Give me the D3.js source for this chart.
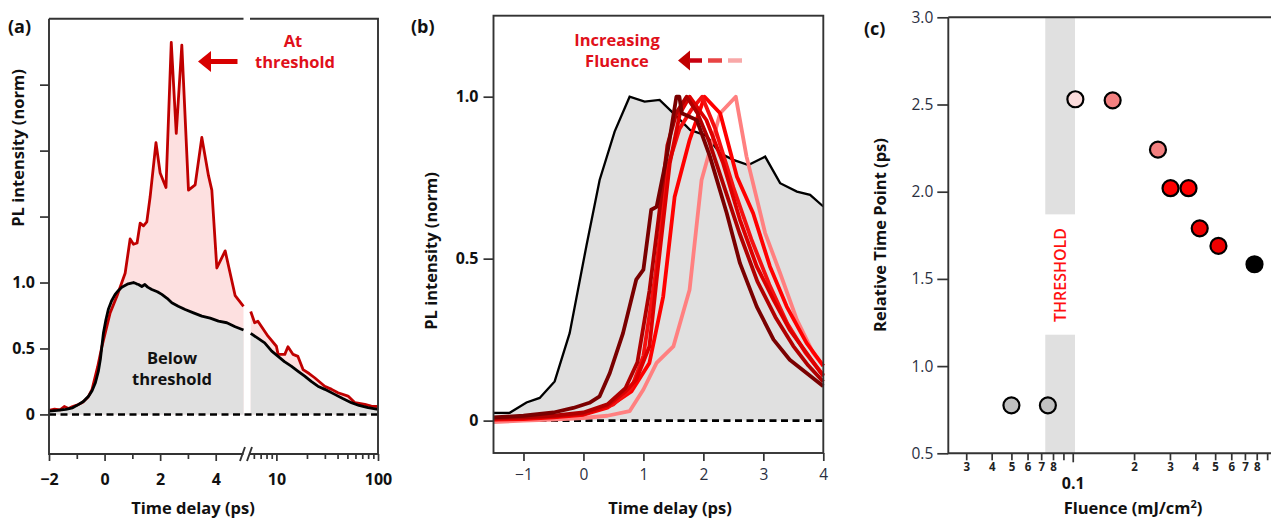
<!DOCTYPE html>
<meta charset="utf-8">
<script src="https://d3js.org/d3.v7.min.js"></script>
<style>
  body { margin: 0; background: #fff; }
  text { font-family: "Open Sans", sans-serif; }
</style>
<body>
<div id="chart"></div>
<script>
// ---- data ----
// panel (a): [time (ps), PL (norm)], linear part (-2..5 ps) and log part (5.5..100 ps)
var aBelowLin = [[-2,0.025],[-1.7,0.03],[-1.4,0.038],[-1.15,0.05],[-0.93,0.076],[-0.75,0.1],[-0.57,0.14],[-0.45,0.18],[-0.33,0.24],[-0.22,0.33],[-0.15,0.42],[-0.04,0.62],[0.05,0.72],[0.14,0.8],[0.25,0.86],[0.38,0.91],[0.5,0.94],[0.62,0.965],[0.85,0.99],[1.04,1.0],[1.15,0.99],[1.22,0.985],[1.34,0.97],[1.45,0.985],[1.55,0.965],[1.7,0.947],[1.9,0.93],[2.06,0.91],[2.25,0.88],[2.42,0.846],[2.65,0.82],[2.9,0.795],[3.2,0.77],[3.5,0.745],[3.8,0.73],[4.1,0.707],[4.4,0.695],[4.7,0.665],[5.0,0.64]];
var aBelowLog = [[5.59,0.614],[6.5,0.58],[7.67,0.543],[9,0.48],[10.4,0.44],[12,0.40],[14,0.366],[16.5,0.325],[19,0.29],[22,0.25],[25.6,0.214],[30,0.19],[37.5,0.152],[45,0.12],[54.7,0.089],[65,0.068],[79.8,0.051],[100,0.038]];
var aAtLin = [[-2,0.03],[-1.8,0.04],[-1.6,0.035],[-1.45,0.06],[-1.3,0.045],[-1.15,0.06],[-1.0,0.07],[-0.8,0.09],[-0.6,0.13],[-0.45,0.19],[-0.25,0.36],[-0.09,0.52],[0.2,0.77],[0.45,0.9],[0.74,1.07],[0.92,1.33],[1.04,1.29],[1.17,1.3],[1.28,1.45],[1.4,1.43],[1.52,1.46],[1.64,1.65],[1.85,2.06],[2.0,1.83],[2.21,1.72],[2.4,2.82],[2.58,2.13],[2.78,2.8],[3.02,1.7],[3.26,1.74],[3.5,2.1],[3.74,1.81],[3.86,1.7],[4.04,1.11],[4.34,1.24],[4.7,0.9],[5.0,0.82]];
var aAtLog = [[5.59,0.78],[6.11,0.695],[6.58,0.707],[8.27,0.593],[10,0.517],[10.4,0.455],[12.1,0.455],[13,0.513],[14.6,0.455],[16.3,0.44],[18.3,0.34],[21,0.31],[23.8,0.278],[29.9,0.214],[35,0.19],[40.4,0.164],[50.7,0.139],[59.3,0.089],[74.2,0.076],[86,0.063],[100,0.06]];

// panel (b): below-threshold trace and six fluence traces
var bBelow = [[-1.5,0.024],[-1.23,0.024],[-0.95,0.056],[-0.73,0.07],[-0.48,0.121],[-0.23,0.27],[0.05,0.54],[0.27,0.743],[0.52,0.892],[0.77,1.0],[1.02,0.985],[1.27,0.99],[1.55,0.94],[1.78,0.897],[2.05,0.88],[2.28,0.825],[2.5,0.805],[2.75,0.789],[3.03,0.815],[3.28,0.733],[3.56,0.707],[3.78,0.697],[4.0,0.661]];
var bTraces = [
  [[-1.5,0.01],[-1.0,0.015],[-0.5,0.025],[-0.17,0.039],[0.1,0.055],[0.27,0.075],[0.44,0.147],[0.66,0.27],[0.88,0.435],[1.0,0.466],[1.13,0.651],[1.22,0.66],[1.39,0.815],[1.55,1.0],[1.6,1.0],[1.64,0.949],[1.89,0.928],[2.11,0.815],[2.39,0.64],[2.61,0.486],[2.89,0.352],[3.17,0.25],[3.44,0.188],[3.72,0.147],[4.0,0.106]],
  [[-1.5,0.008],[-1,0.01],[-0.5,0.015],[0,0.025],[0.4,0.05],[0.7,0.1],[0.9,0.18],[1.1,0.4],[1.25,0.62],[1.4,0.85],[1.55,0.95],[1.72,1.0],[1.9,0.95],[2.1,0.86],[2.35,0.72],[2.6,0.58],[2.9,0.43],[3.2,0.32],[3.5,0.23],[3.75,0.17],[4.0,0.12]],
  [[-1.5,0.005],[-1,0.008],[-0.5,0.012],[0,0.02],[0.4,0.045],[0.7,0.09],[0.88,0.126],[1.1,0.229],[1.22,0.435],[1.44,0.794],[1.61,0.949],[1.77,1.0],[2.05,0.928],[2.33,0.794],[2.61,0.62],[2.89,0.476],[3.17,0.373],[3.44,0.28],[3.72,0.209],[4.0,0.137]],
  [[-1.5,0.004],[-0.5,0.012],[0,0.02],[0.5,0.05],[0.8,0.1],[1.0,0.2],[1.2,0.45],[1.4,0.78],[1.6,0.9],[1.8,0.96],[1.98,1.0],[2.2,0.9],[2.5,0.72],[2.8,0.56],[3.1,0.42],[3.4,0.3],[3.7,0.21],[4.0,0.14]],
  [[-1.5,0.003],[-1,0.005],[-0.5,0.01],[0,0.018],[0.4,0.04],[0.8,0.09],[1.1,0.178],[1.33,0.383],[1.52,0.69],[1.77,0.866],[2.02,1.0],[2.28,0.949],[2.56,0.753],[2.83,0.64],[3.11,0.476],[3.39,0.352],[3.72,0.24],[4.0,0.169]],
  [[-1.5,-0.005],[-1,0.0],[-0.5,0.003],[0,0.008],[0.4,0.015],[0.77,0.029],[1.0,0.096],[1.22,0.178],[1.5,0.229],[1.77,0.404],[1.97,0.743],[2.28,0.949],[2.54,1.0],[2.72,0.815],[3.03,0.579],[3.28,0.455],[3.56,0.311],[3.83,0.209],[4.0,0.169]]
];
var bColors = ["#7a0000", "#b00000", "#dd0000", "#f41010", "#ff0000", "#ff8080"];

// panel (c): fluence (mJ/cm2) vs relative time point (ps)
var cFluence = [0.05, 0.0755, 0.103, 0.157, 0.262, 0.302, 0.37, 0.42, 0.519, 0.78];
var cTime = [0.775, 0.775, 2.53, 2.524, 2.241, 2.02, 2.02, 1.79, 1.689, 1.584];
var cFill = ["#c0c0c0", "#c0c0c0", "#fbdcdc", "#f38080", "#f38080", "#ff0000", "#ff0000", "#ee0000", "#ee0000", "#000000"];
var cThreshold = [0.0733, 0.1026];

var svg = d3.select("#chart").append("svg").attr("width", 1271).attr("height", 519);
var frameColor = "#333";
var titleSize = 16.5, tickSize = 16;

function styleTicks(g, size, weight, color) {
  g.select(".domain").remove();
  g.selectAll(".tick line").attr("stroke", frameColor).attr("stroke-width", 1.7);
  g.selectAll(".tick text").style("font-size", size + "px").style("font-weight", weight).attr("fill", color);
}
function label(g, x, y, txt, color, size, rot) {
  var t = g.append("text").attr("text-anchor", "middle").style("font-size", (size || titleSize) + "px")
    .style("font-weight", 700).attr("fill", color || "#111").text(txt);
  if (rot) t.attr("transform", "translate(" + x + "," + y + ") rotate(-90)");
  else t.attr("x", x).attr("y", y);
  return t;
}

// ================= panel (a) =================
var xaLin = d3.scaleLinear().domain([-2, 5]).range([49, 243.5]);
var xaLog = d3.scaleLog().domain([5.5, 100]).range([250, 378]);
var ya = d3.scaleLinear().domain([-0.3, 3.0]).range([454, 18.7]);
var pa = svg.append("g");

function areaA(x) { return d3.area().x(function(d) { return x(d[0]); }).y0(ya(0)).y1(function(d) { return ya(d[1]); }); }
function lineA(x) { return d3.line().x(function(d) { return x(d[0]); }).y(function(d) { return ya(d[1]); }); }

[[aAtLin, xaLin], [aAtLog, xaLog]].forEach(function(p) {
  pa.append("path").datum(p[0]).attr("fill", "#fde0e0").attr("d", areaA(p[1]));
});
[[aBelowLin, xaLin], [aBelowLog, xaLog]].forEach(function(p) {
  pa.append("path").datum(p[0]).attr("fill", "#e0e0e0").attr("d", areaA(p[1]));
});
pa.append("line").attr("x1", 49).attr("x2", 378).attr("y1", ya(0)).attr("y2", ya(0))
  .attr("stroke", "#000").attr("stroke-width", 2.6).attr("stroke-dasharray", "7,4.5");
[[aAtLin, xaLin], [aAtLog, xaLog]].forEach(function(p) {
  pa.append("path").datum(p[0]).attr("fill", "none").attr("stroke", "#c00000").attr("stroke-width", 2.8)
    .attr("stroke-linejoin", "round").attr("d", lineA(p[1]));
});
[[aBelowLin, xaLin], [aBelowLog, xaLog]].forEach(function(p) {
  pa.append("path").datum(p[0]).attr("fill", "none").attr("stroke", "#000").attr("stroke-width", 2.8)
    .attr("stroke-linejoin", "round").attr("d", lineA(p[1]));
});

// frame with break
var fa = pa.append("g").attr("stroke", frameColor).attr("stroke-width", 1.9).attr("fill", "none");
fa.append("path").attr("d", "M49,18.7V454H243.5 M250,454H378V18.7H250 M243.5,18.7H49");
fa.append("path").attr("d", "M240,461L245,447 M247,461L252,447");

pa.append("g").attr("transform", "translate(49,0)")
  .call(d3.axisLeft(ya).tickValues([0, 0.5, 1, 1.5, 2, 2.5]).tickSize(9).tickPadding(5)
    .tickFormat(function(d) { return d === 0 ? "0" : (d <= 1 ? d.toFixed(1) : ""); }))
  .call(styleTicks, tickSize, 700, "#111");
pa.append("g").attr("transform", "translate(0,454)")
  .call(d3.axisBottom(xaLin).tickValues([-2, 0, 2, 4]).tickSize(7).tickPadding(13).tickFormat(d3.format("d")))
  .call(styleTicks, tickSize, 700, "#111");
pa.append("g").attr("transform", "translate(0,454)")
  .call(d3.axisBottom(xaLin).tickValues([-1, 1, 3]).tickSize(5).tickFormat(""))
  .call(styleTicks, tickSize, 700, "#111");
pa.append("g").attr("transform", "translate(0,454)")
  .call(d3.axisBottom(xaLog).tickValues([10, 100]).tickSize(7).tickPadding(13).tickFormat(d3.format("d")))
  .call(styleTicks, tickSize, 700, "#111");
pa.append("g").attr("transform", "translate(0,454)")
  .call(d3.axisBottom(xaLog).tickValues([6, 7, 8, 9, 20, 30, 40, 50, 60, 70, 80, 90]).tickSize(5).tickFormat(""))
  .call(styleTicks, tickSize, 700, "#111");

label(pa, 193, 514, "Time delay (ps)");
label(pa, 24, 148, "PL intensity (norm)", "#111", titleSize, true);
pa.append("text").attr("x", 8).attr("y", 33).style("font-size", "18px").style("font-weight", 700)
  .attr("fill", "#111").text("(a)");
label(pa, 172, 364, "Below");
label(pa, 172, 385, "threshold");
label(pa, 293, 47, "At", "#e0101a");
label(pa, 295, 68, "threshold", "#e0101a");
pa.append("line").attr("x1", 208).attr("x2", 237.5).attr("y1", 61.5).attr("y2", 61.5)
  .attr("stroke", "#d80000").attr("stroke-width", 5);
pa.append("path").attr("d", "M198,61.5L211,51L211,72Z").attr("fill", "#d80000");

// ================= panel (b) =================
var xb = d3.scaleLinear().domain([-1.5, 4]).range([493.5, 823.3]);
var yb = d3.scaleLinear().domain([-0.1, 1.25]).range([453, 15.7]);
var pb = svg.append("g");
var lineB = d3.line().x(function(d) { return xb(d[0]); }).y(function(d) { return yb(d[1]); });

pb.append("path").datum(bBelow).attr("fill", "#e0e0e0")
  .attr("d", d3.area().x(function(d) { return xb(d[0]); }).y0(yb(0)).y1(function(d) { return yb(d[1]); }));
pb.append("line").attr("x1", 493.5).attr("x2", 823.3).attr("y1", yb(0)).attr("y2", yb(0))
  .attr("stroke", "#000").attr("stroke-width", 2.6).attr("stroke-dasharray", "7,4.5");
pb.append("path").datum(bBelow).attr("fill", "none").attr("stroke", "#000").attr("stroke-width", 2.3).attr("d", lineB);
bTraces.slice().reverse().forEach(function(tr, i) {
  var c = bColors[bTraces.length - 1 - i];
  pb.append("path").datum(tr).attr("fill", "none").attr("stroke", c).attr("stroke-width", 3.8)
    .attr("stroke-linejoin", "round").attr("d", lineB);
});
pb.append("rect").attr("x", 493.5).attr("y", 15.7).attr("width", 823.3 - 493.5).attr("height", 453 - 15.7)
  .attr("fill", "none").attr("stroke", frameColor).attr("stroke-width", 1.9);

pb.append("g").attr("transform", "translate(493.5,0)")
  .call(d3.axisLeft(yb).tickValues([0, 0.5, 1]).tickSize(10).tickPadding(5)
    .tickFormat(function(d) { return d === 0 ? "0" : d.toFixed(1); }))
  .call(styleTicks, tickSize, 700, "#111");
pb.append("g").attr("transform", "translate(0,453)")
  .call(d3.axisBottom(xb).tickValues([-1, 0, 1, 2, 3, 4]).tickSize(8).tickPadding(8).tickFormat(d3.format("d")))
  .call(styleTicks, 15.5, 400, "#2a2f3f");

label(pb, 670, 514, "Time delay (ps)");
label(pb, 437, 251, "PL intensity (norm)", "#111", titleSize, true);
pb.append("text").attr("x", 411).attr("y", 33).style("font-size", "18px").style("font-weight", 700)
  .attr("fill", "#111").text("(b)");
label(pb, 617, 46, "Increasing", "#e0101a");
label(pb, 617, 67, "Fluence", "#e0101a");
pb.append("path").attr("d", "M678,60.5L690,50.5L690,70.5Z").attr("fill", "#c00000");
[[689, 702, "#c80010"], [708, 722, "#e84444"], [728, 742, "#f8a8a8"]].forEach(function(s) {
  pb.append("line").attr("x1", s[0]).attr("x2", s[1]).attr("y1", 60.5).attr("y2", 60.5)
    .attr("stroke", s[2]).attr("stroke-width", 4.5);
});

// ================= panel (c) =================
var xc = d3.scaleLog().domain([0.0245, 0.94]).range([948.3, 1271]);
var yc = d3.scaleLinear().domain([0.5, 3]).range([453.3, 17.3]);
var pc = svg.append("g");

pc.append("rect").attr("x", xc(cThreshold[0])).attr("width", xc(cThreshold[1]) - xc(cThreshold[0]))
  .attr("y", yc(3)).attr("height", yc(1.87) - yc(3)).attr("fill", "#e0e0e0");
pc.append("rect").attr("x", xc(cThreshold[0])).attr("width", xc(cThreshold[1]) - xc(cThreshold[0]))
  .attr("y", yc(1.18)).attr("height", yc(0.5) - yc(1.18)).attr("fill", "#e0e0e0");
pc.append("text").attr("transform", "translate(" + (xc(Math.sqrt(cThreshold[0] * cThreshold[1])) + 6) + "," + 275 + ") rotate(-90)")
  .attr("text-anchor", "middle").style("font-size", "16px").style("font-weight", 600)
  .attr("fill", "#ff1010").text("THRESHOLD");

pc.append("path").attr("d", "M948.3,17.3H1271 M948.3,17.3V453.3H1271").attr("fill", "none")
  .attr("stroke", frameColor).attr("stroke-width", 1.9);

pc.append("g").attr("transform", "translate(948.3,0)")
  .call(d3.axisLeft(yc).tickValues([0.5, 1, 1.5, 2, 2.5, 3]).tickSize(11).tickPadding(4).tickFormat(d3.format(".1f")))
  .call(styleTicks, 15.5, 400, "#2a2f3f");
var minorC = [0.03, 0.04, 0.05, 0.06, 0.07, 0.08, 0.09, 0.2, 0.3, 0.4, 0.5, 0.6, 0.7, 0.8, 0.9];
pc.append("g").attr("transform", "translate(0,453.3)")
  .call(d3.axisBottom(xc).tickValues(minorC).tickSize(7).tickPadding(3)
    .tickFormat(function(d) { var m = Math.round(d * 100) % 10 === 0 ? Math.round(d * 10) : Math.round(d * 100); return m === 9 ? "" : m; }))
  .call(styleTicks, 11.5, 700, "#222");
pc.append("g").attr("transform", "translate(0,453.3)")
  .call(d3.axisBottom(xc).tickValues([0.1]).tickSize(9).tickPadding(15).tickFormat(d3.format(".1f")))
  .call(styleTicks, tickSize, 700, "#111");

pc.append("g").selectAll("circle").data(cFluence).enter().append("circle")
  .attr("cx", function(d) { return xc(d); })
  .attr("cy", function(d, i) { return yc(cTime[i]); })
  .attr("r", 8)
  .attr("fill", function(d, i) { return cFill[i]; })
  .attr("stroke", "#000").attr("stroke-width", 2.2);

var fl = label(pc, 1133, 514, "");
fl.append("tspan").text("Fluence (mJ/cm");
fl.append("tspan").attr("dy", -6).style("font-size", "11px").text("2");
fl.append("tspan").attr("dy", 6).text(")");
label(pc, 886, 235, "Relative Time Point (ps)", "#111", titleSize, true);
pc.append("text").attr("x", 864).attr("y", 35).style("font-size", "18px").style("font-weight", 700)
  .attr("fill", "#111").text("(c)");
</script>
</body>
